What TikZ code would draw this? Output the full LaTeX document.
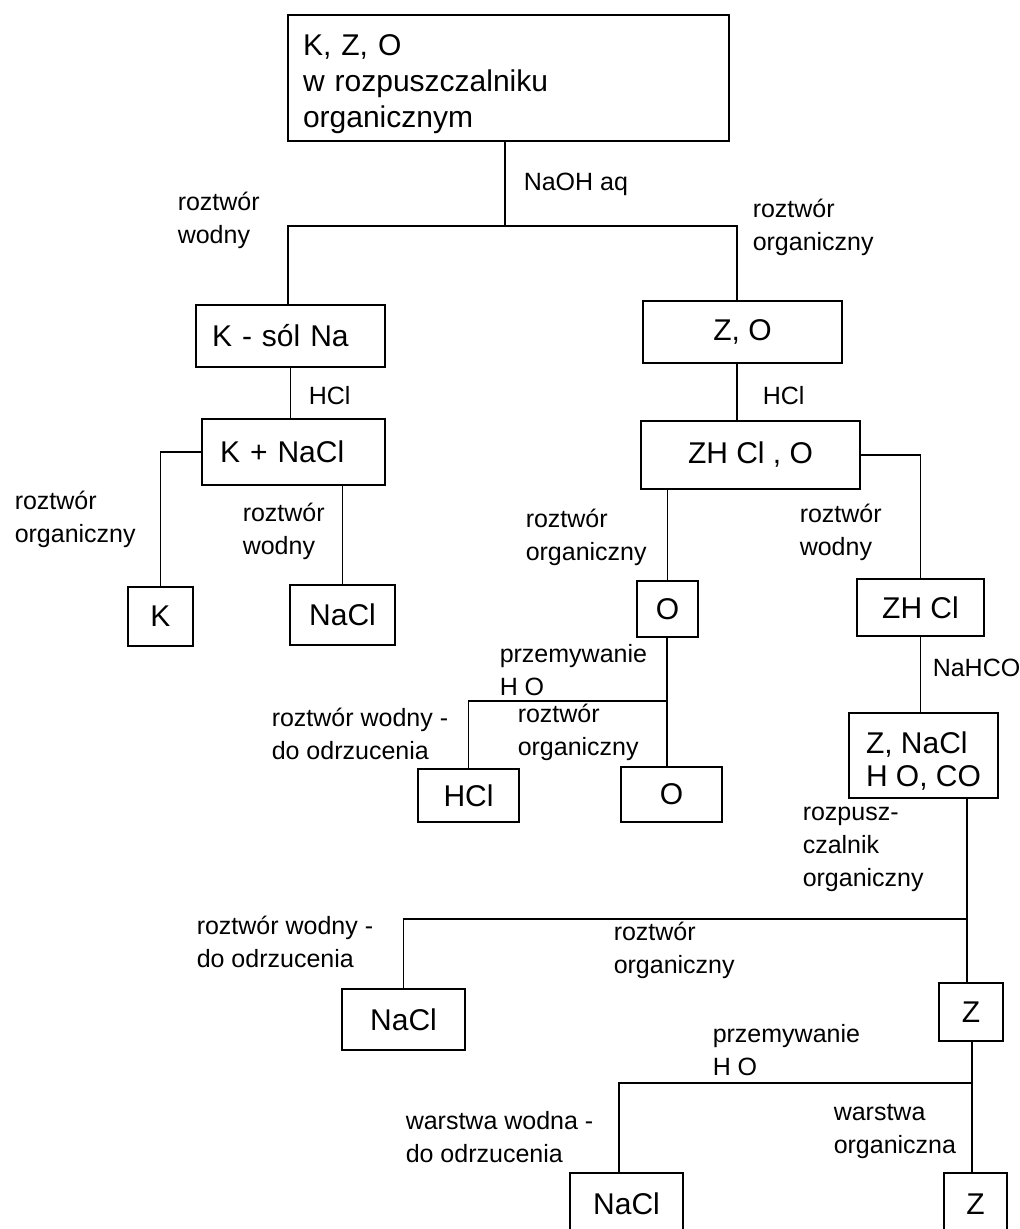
\documentclass[tikz,border=0pt]{standalone}
\usepackage{fontspec}
\setmainfont{Liberation Sans}
\newcommand{\boxsize}{\fontsize{30}{36}\selectfont}
\newcommand{\lblsize}{\fontsize{25}{33}\selectfont}

\begin{document}
\begin{tikzpicture}[x=1pt,y=-1pt,line width=1.5pt,
	box/.style={draw,rectangle,font=\boxsize,inner sep=0pt},
	lbl/.style={anchor=base west,align=left,font=\lblsize,inner sep=0pt}]
	\useasboundingbox (0,0) rectangle (1020,1229);
	\clip (0,0) rectangle (1020,1229);
	% boxes
	\node[box,minimum width=441,minimum height=126,text width=411,align=left] (start) at (508.5,78) {\rule{0pt}{34pt}K, Z, O\\w rozpuszczalniku\\organicznym};
	\node[box,minimum width=189,minimum height=62,text width=157,inner xsep=16,align=left] (ksol) at (290.5,336) {K - sól Na};
	\node[box,minimum width=183,minimum height=66,text width=147,inner xsep=18,align=left] (knacl) at (293.5,452) {K + NaCl};
	\node[box,minimum width=65,minimum height=59] (kbox) at (160.5,616.5) {K};
	\node[box,minimum width=105,minimum height=60] (nacl1) at (342.5,615) {NaCl};
	\node[box,minimum width=199,minimum height=62] (zo) at (742.5,332) {Z, O};
	\node[box,minimum width=219,minimum height=68] (zhclo) at (750.5,455) {ZH Cl , O};
	\node[box,minimum width=61,minimum height=56] (obox) at (667.5,609) {O};
	\node[box,minimum width=127,minimum height=57] (zhcl) at (920.5,607.5) {ZH Cl};
	\node[box,minimum width=101,minimum height=53] (hclbox) at (468.5,795.5) {HCl};
	\node[box,minimum width=101,minimum height=55] (o2) at (671.5,794.5) {O};
	\node[box,minimum width=149,minimum height=85,align=left,font=\fontsize{30}{33}\selectfont] (znacl) at (923.5,755.5) {\rule{0pt}{32pt}Z, NaCl\\H O, CO};
	\node[box,minimum width=123,minimum height=61] (nacl2) at (403.5,1019.5) {NaCl};
	\node[box,minimum width=64,minimum height=58] (zbox) at (971,1012) {Z};
	\node[box,minimum width=113,minimum height=62] (nacl3) at (626.5,1204) {NaCl};
	\node[box,minimum width=63,minimum height=62] (z2) at (975.5,1204) {Z};
	% junctions
	\coordinate (j0) at (505,226);
	\coordinate (jl) at (288,226);
	\coordinate (jr) at (737,226);
	\coordinate (j2) at (667,701);
	\coordinate (j3) at (967,919);
	\coordinate (j4) at (972,1083);
	\coordinate (j5) at (619,1083);
	% connectors
	\draw (j0 |- start.south) -- (j0);
	\draw (jl |- ksol.north) -- (jl) -- (jr) -- (jr |- zo.north);
	\draw (ksol.south) -- (ksol.south |- knacl.north);
	\draw (knacl.west) -| (kbox.north);
	\draw (nacl1.north |- knacl.south) -- (nacl1.north);
	\draw (jr |- zo.south) -- (jr |- zhclo.north);
	\draw (obox.north |- zhclo.south) -- (obox.north);
	\draw (zhclo.east) -| (zhcl.north);
	\draw (j2 |- obox.south) -- (j2 |- o2.north);
	\draw (j2) -| (hclbox.north);
	\draw (zhcl.south) -- (zhcl.south |- znacl.north);
	\draw (j3 |- znacl.south) -- (j3 |- zbox.north);
	\draw (j3) -| (nacl2.north);
	\draw (j4 |- zbox.south) -- (j4 |- z2.north);
	\draw (j4) -- (j5) -- (j5 |- nacl3.north);
	% labels (placed at the baseline of their last line)
	\node[lbl] (l1) at (523,190) {NaOH aq};
	\node[lbl] (l2) at (177,243) {roztwór\\wodny};
	\node[lbl] (l3) at (752,250) {roztwór\\organiczny};
	\node[lbl] (l4) at (308,404) {HCl};
	\node[lbl] (l5) at (14,542) {roztwór\\organiczny};
	\node[lbl] (l6) at (242,554) {roztwór\\wodny};
	\node[lbl] (l7) at (762,404) {HCl};
	\node[lbl] (l8) at (525,560) {roztwór\\organiczny};
	\node[lbl] (l9) at (799,555) {roztwór\\wodny};
	\node[lbl] (l10) at (499,695) {przemywanie\\H O};
	\node[lbl] (l11) at (271,759) {roztwór wodny -\\do odrzucenia};
	\node[lbl] (l12) at (517,755) {roztwór\\organiczny};
	\node[lbl] (l13) at (932,676) {NaHCO};
	\node[lbl] (l14) at (802,886) {rozpusz-\\czalnik\\organiczny};
	\node[lbl] (l15) at (196,967) {roztwór wodny -\\do odrzucenia};
	\node[lbl] (l16) at (613,973) {roztwór\\organiczny};
	\node[lbl] (l17) at (712,1075) {przemywanie\\H O};
	\node[lbl] (l18) at (405,1162) {warstwa wodna -\\do odrzucenia};
	\node[lbl] (l19) at (833,1153) {warstwa\\organiczna};
\end{tikzpicture}
\end{document}
